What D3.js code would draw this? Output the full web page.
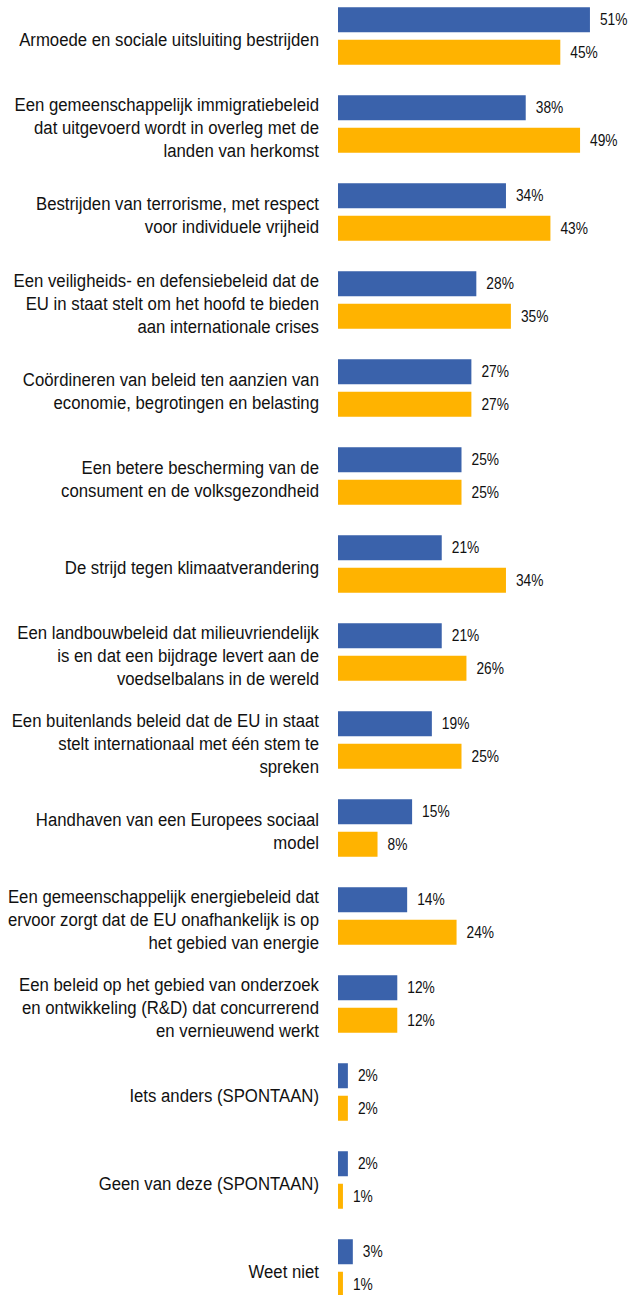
<!DOCTYPE html>
<html><head><meta charset="utf-8">
<script src="https://cdn.jsdelivr.net/npm/d3@7"></script>
<style>
html,body{margin:0;padding:0;background:#fff;}
svg{display:block;}
</style></head>
<body>
<svg id="chart" width="632" height="1295"></svg>
<script>
const categories = [
  "Armoede en sociale uitsluiting bestrijden",
  "Een gemeenschappelijk immigratiebeleid\ndat uitgevoerd wordt in overleg met de\nlanden van herkomst",
  "Bestrijden van terrorisme, met respect\nvoor individuele vrijheid",
  "Een veiligheids- en defensiebeleid dat de\nEU in staat stelt om het hoofd te bieden\naan internationale crises",
  "Coördineren van beleid ten aanzien van\neconomie, begrotingen en belasting",
  "Een betere bescherming van de\nconsument en de volksgezondheid",
  "De strijd tegen klimaatverandering",
  "Een landbouwbeleid dat milieuvriendelijk\nis en dat een bijdrage levert aan de\nvoedselbalans in de wereld",
  "Een buitenlands beleid dat de EU in staat\nstelt internationaal met één stem te\nspreken",
  "Handhaven van een Europees sociaal\nmodel",
  "Een gemeenschappelijk energiebeleid dat\nervoor zorgt dat de EU onafhankelijk is op\nhet gebied van energie",
  "Een beleid op het gebied van onderzoek\nen ontwikkeling (R&D) dat concurrerend\nen vernieuwend werkt",
  "Iets anders (SPONTAAN)",
  "Geen van deze (SPONTAAN)",
  "Weet niet"
];
const seriesBlue = [51, 38, 34, 28, 27, 25, 21, 21, 19, 15, 14, 12, 2, 2, 3];
const seriesOrange = [45, 49, 43, 35, 27, 25, 34, 26, 25, 8, 24, 12, 2, 1, 1];
const colors = ["#3A62AB", "#FFB300"];

const FONT = "'Liberation Sans', Arial, sans-serif";
const svg = d3.select("#chart");
const x = d3.scaleLinear().domain([0, 100]).range([338, 832]);
const y = d3.scaleBand().domain(d3.range(categories.length)).range([-8, 1312]).paddingInner(0).paddingOuter(0);
const barH = 25, gap = 7.5;
const step = y.step();
const groupTop = i => y(i) + (step - (2 * barH + gap)) / 2;

const g = svg.append("g");
const groups = g.selectAll("g.grp").data(categories).join("g").attr("class", "grp");

const valSx = 0.835;
const series = [seriesBlue, seriesOrange];
series.forEach((s, k) => {
  groups.append("rect")
    .attr("x", x(0))
    .attr("y", (d, i) => groupTop(i) + k * (barH + gap))
    .attr("width", (d, i) => x(s[i]) - x(0))
    .attr("height", barH)
    .attr("fill", colors[k]);
  groups.append("text")
    .attr("transform", (d, i) => `translate(${x(s[i]) + 10},${groupTop(i) + k * (barH + gap) + barH / 2 - 0.5}) scale(${valSx},1)`)
    .attr("dy", "0.36em")
    .attr("font-family", FONT)
    .attr("font-size", 16.5)
    .attr("fill", "#111")
    .text((d, i) => s[i] + "%");
});

// measure compression so the first label spans ~300px
const probe = svg.append("text").attr("font-family", FONT).attr("font-size", 19).text(categories[0]);
const labSx = 300 / probe.node().getComputedTextLength();
probe.remove();

const lineH = 23;
groups.each(function(d, i) {
  const lines = d.split("\n");
  const cy = groupTop(i) + barH + gap / 2 + 3;
  const t = d3.select(this).append("text")
    .attr("transform", `translate(319,${cy}) scale(${labSx},1)`)
    .attr("text-anchor", "end")
    .attr("font-family", FONT)
    .attr("font-size", 19)
    .attr("fill", "#111");
  lines.forEach((ln, j) => {
    t.append("tspan")
      .attr("x", 0)
      .attr("y", (j - (lines.length - 1) / 2) * lineH)
      .attr("dy", "0.36em")
      .text(ln);
  });
});
</script>
</body></html>
